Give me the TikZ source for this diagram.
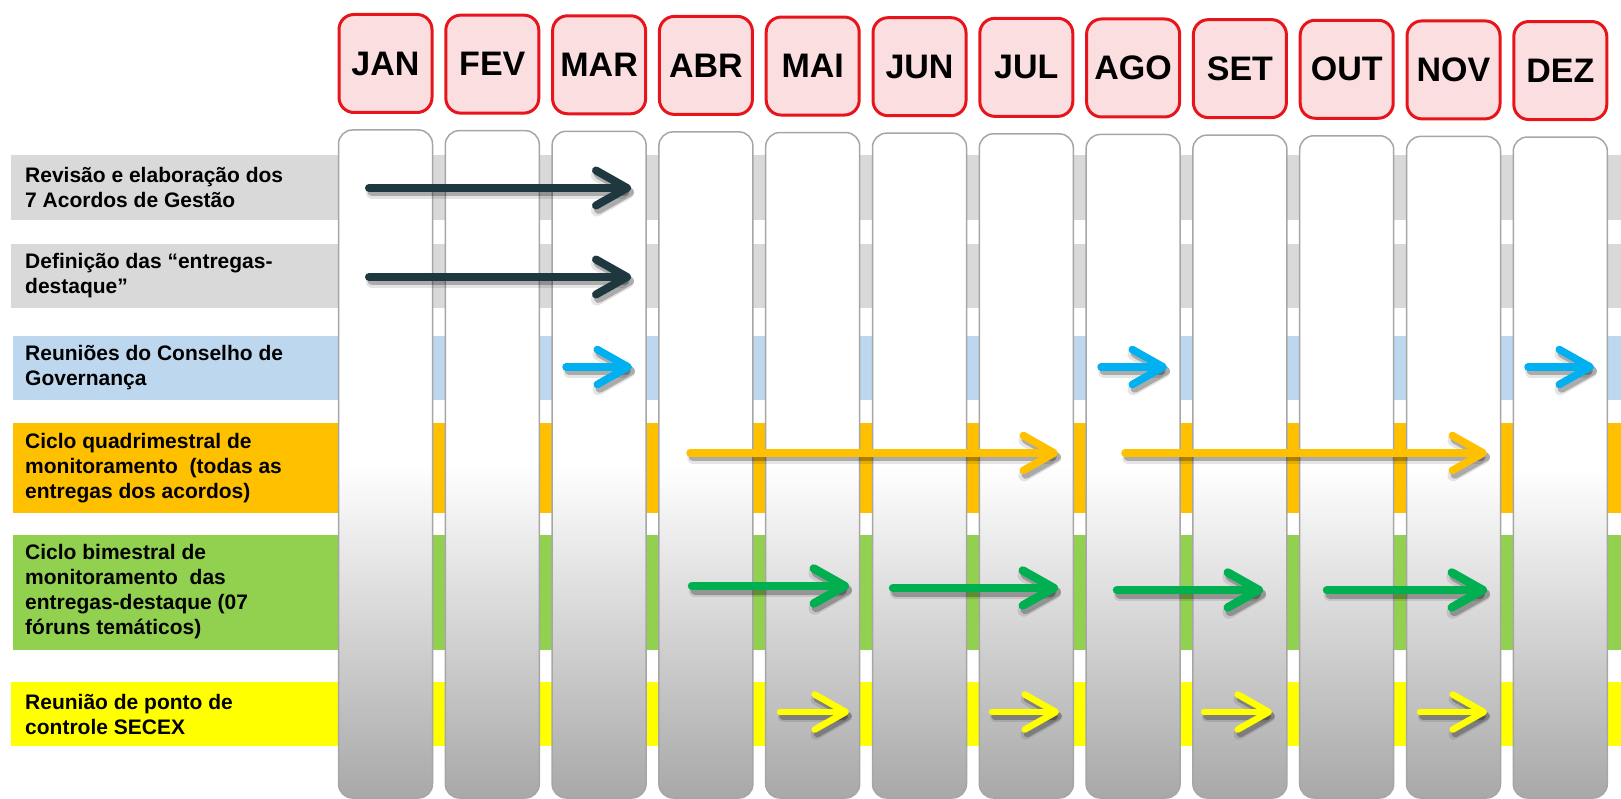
\documentclass[tikz,border=0pt]{standalone}
\usepackage{fontspec}
\setmainfont{Liberation Sans}
\usetikzlibrary{arrows.meta}
\definecolor{bandgray}{HTML}{D9D9D9}
\definecolor{bandblue}{HTML}{BDD7EE}
\definecolor{bandorange}{HTML}{FFC000}
\definecolor{bandgreen}{HTML}{92D050}
\definecolor{bandyellow}{HTML}{FFFF00}
\definecolor{hdrfill}{HTML}{FBDFE0}
\definecolor{hdrline}{HTML}{E8141C}
\definecolor{colline}{HTML}{A6A6A6}
\definecolor{colbot}{HTML}{A8A8A8}
\definecolor{adark}{HTML}{1F3840}
\definecolor{ablue}{HTML}{00B0F0}
\definecolor{aorange}{HTML}{FFC000}
\definecolor{agreen}{HTML}{00B050}
\definecolor{ayellow}{HTML}{FFFF00}
\pgfdeclareverticalshading{colshade}{100bp}{color(0bp)=(colbot); color(25bp)=(colbot); color(50bp)=(white); color(100bp)=(white)}
\newcommand\tarr[6]{%
  \coordinate (#6s) at (#3,#5);
  \coordinate (#6e) at (#4,#5);
  \draw[line width=#2pt+4pt, arrhead={#2pt+4pt}, black, opacity=0.10] ([xshift=3pt,yshift=-5pt]#6s) -- ([xshift=3pt,yshift=-5pt]#6e);
  \draw[line width=#2pt+1pt, arrhead={#2pt+1pt}, black, opacity=0.25] ([xshift=3pt,yshift=-4pt]#6s) -- ([xshift=3pt,yshift=-4pt]#6e);
  \draw[line width=#2pt, arrhead={#2pt}, #1] (#6s) -- (#6e);
}
\begin{document}
\begin{tikzpicture}[x=1pt,y=-1pt,
  hdr/.style={draw=hdrline, line width=3pt, fill=hdrfill, rounded corners=15pt,
    minimum width=93pt, minimum height=98pt, inner sep=0pt,
    font=\fontsize{34}{40}\selectfont\bfseries},
  colbox/.style={draw=colline, line width=1.5pt, rounded corners=14pt, shade, shading=colshade,
    minimum width=94pt, inner sep=0pt},
  lbl/.style={anchor=west, align=left, inner sep=0pt, font=\fontsize{21}{25}\selectfont\bfseries},
  arrhead/.style={line cap=round, -{Straight Barb[length=31pt, width=35pt, round, line width=#1]}}
]
\useasboundingbox (0,0) rectangle (1621,799);
% row bands
\fill[bandgray] (11,155) rectangle (1621,220);
\fill[bandgray] (11,244) rectangle (1621,308);
\fill[bandblue] (13,336) rectangle (1621,400);
\fill[bandorange] (13,423) rectangle (1621,513);
\fill[bandgreen] (13,535) rectangle (1621,650);
\fill[bandyellow] (11,682) rectangle (1621,746);
% month columns and headers
\foreach \m [count=\i from 0] in {JAN,FEV,MAR,ABR,MAI,JUN,JUL,AGO,SET,OUT,NOV,DEZ} {
  \pgfmathsetmacro\cx{385.5+106.8*\i}
  \pgfmathsetmacro\ct{130+0.64*\i}
  \pgfmathsetmacro\hc{63.5+0.64*\i}
  \node[colbox, minimum height={798-\ct}] (c\m) at (\cx,{(\ct+798)/2}) {};
  \node[hdr] (h\m) at (\cx,\hc) {\m};
}
% labels
\node[lbl] (l1) at (25,187.5) {Revisão e elaboração dos\\7 Acordos de Gestão};
\node[lbl] (l2) at (25,276) {Definição das “entregas-\\destaque”};
\node[lbl] (l3) at (25,368) {Reuniões do Conselho de\\Governança};
\node[lbl] (l4) at (25,468) {Ciclo quadrimestral de\\monitoramento\ \ (todas as\\entregas dos acordos)};
\node[lbl] (l5) at (25,592) {Ciclo bimestral de\\monitoramento\ \ das\\entregas-destaque (07\\fóruns temáticos)};
\node[lbl] (l6) at (25,714) {Reunião de ponto de\\controle SECEX};
% arrows
\tarr{adark}{8}{369}{631}{188}{a1}
\tarr{adark}{8}{369}{631}{277}{a2}
\tarr{ablue}{7.5}{566}{632}{367}{b1}
\tarr{ablue}{7.5}{1101}{1167}{367}{b2}
\tarr{ablue}{7.5}{1528}{1594}{367}{b3}
\tarr{aorange}{7.5}{690}{1058}{453}{o1}
\tarr{aorange}{7.5}{1125}{1487}{453}{o2}
\tarr{agreen}{8.5}{692}{849}{586}{g1}
\tarr{agreen}{8.5}{893}{1058}{588}{g2}
\tarr{agreen}{8.5}{1117}{1263}{590}{g3}
\tarr{agreen}{8.5}{1327}{1487}{590}{g4}
\tarr{ayellow}{6.5}{780}{849}{712}{y1}
\tarr{ayellow}{6.5}{992}{1059}{712}{y2}
\tarr{ayellow}{6.5}{1204}{1272}{712}{y3}
\tarr{ayellow}{6.5}{1420}{1487}{712}{y4}
\end{tikzpicture}
\end{document}
